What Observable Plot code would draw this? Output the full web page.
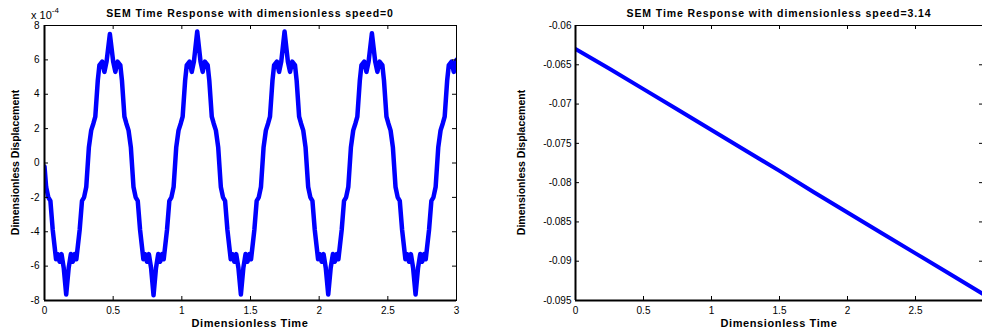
<!DOCTYPE html>
<html><head><meta charset="utf-8">
<script src="https://cdn.jsdelivr.net/npm/d3@7"></script>
<script src="https://cdn.jsdelivr.net/npm/@observablehq/plot@0.6"></script>
<style>
html,body{margin:0;padding:0;background:#fff;overflow:hidden;width:982px;height:334px;}
#wrap{position:relative;width:982px;height:334px;overflow:hidden;}
#left{position:absolute;left:0;top:0;width:470px;height:334px;}
#right{position:absolute;left:490px;top:0;width:510px;height:334px;}
svg{max-width:none !important;}
svg text{font-family:"Liberation Sans",Arial,Helvetica,sans-serif;}
</style></head><body><div id="wrap"><div id="left"></div><div id="right"></div></div>
<script>
// Left panel: dimensionless speed = 0 (displacement in units of 1e-4)
const leftTime = [
  0.000, 0.012, 0.028, 0.043, 0.060, 0.084, 0.096, 0.110, 0.124, 0.140,
  0.158, 0.176, 0.192, 0.206, 0.220, 0.232, 0.256, 0.273, 0.288, 0.304, 0.323, 0.340, 0.356, 0.370, 0.388, 0.400, 0.420, 0.436, 0.452,
  0.476, 0.500, 0.516, 0.532, 0.552, 0.564, 0.582, 0.596, 0.612, 0.629, 0.648, 0.664, 0.679, 0.696, 0.720, 0.732, 0.746, 0.760, 0.776,
  0.794, 0.812, 0.828, 0.842, 0.856, 0.868, 0.892, 0.909, 0.924, 0.940, 0.959, 0.976, 0.992, 1.006, 1.024, 1.036, 1.056, 1.072, 1.088,
  1.112, 1.136, 1.152, 1.168, 1.188, 1.200, 1.218, 1.232, 1.248, 1.265, 1.284, 1.300, 1.315, 1.332, 1.356, 1.368, 1.382, 1.396, 1.412,
  1.430, 1.448, 1.464, 1.478, 1.492, 1.504, 1.528, 1.545, 1.560, 1.576, 1.595, 1.612, 1.628, 1.642, 1.660, 1.672, 1.692, 1.708, 1.724,
  1.748, 1.772, 1.788, 1.804, 1.824, 1.836, 1.854, 1.868, 1.884, 1.901, 1.920, 1.936, 1.951, 1.968, 1.992, 2.004, 2.018, 2.032, 2.048,
  2.066, 2.084, 2.100, 2.114, 2.128, 2.140, 2.164, 2.181, 2.196, 2.212, 2.231, 2.248, 2.264, 2.278, 2.296, 2.308, 2.328, 2.344, 2.360,
  2.384, 2.408, 2.424, 2.440, 2.460, 2.472, 2.490, 2.504, 2.520, 2.537, 2.556, 2.572, 2.587, 2.604, 2.628, 2.640, 2.654, 2.668, 2.684,
  2.702, 2.720, 2.736, 2.750, 2.764, 2.776, 2.800, 2.817, 2.832, 2.848, 2.867, 2.884, 2.900, 2.914, 2.932, 2.944, 2.964, 2.980, 2.996, 3.000
];
const leftDisp = [
  -0.2, -1.4, -2.0, -2.2, -3.9, -5.6, -5.3, -5.75, -5.3, -6.1,
  -7.65, -6.1, -5.3, -5.75, -5.3, -5.6, -3.9, -2.2, -2.0, -1.4, 0.9, 1.9, 2.3, 2.7, 4.8, 5.7, 5.9, 5.3, 5.9,
  7.5, 5.9, 5.3, 5.9, 5.7, 4.8, 2.7, 2.3, 1.9, 0.9, -1.4, -2.0, -2.2, -3.9, -5.6, -5.3, -5.75, -5.3, -6.1,
  -7.7, -6.1, -5.3, -5.75, -5.3, -5.6, -3.9, -2.2, -2.0, -1.4, 0.9, 1.9, 2.3, 2.7, 4.8, 5.7, 5.9, 5.3, 5.9,
  7.65, 5.9, 5.3, 5.9, 5.7, 4.8, 2.7, 2.3, 1.9, 0.9, -1.4, -2.0, -2.2, -3.9, -5.6, -5.3, -5.75, -5.3, -6.1,
  -7.65, -6.1, -5.3, -5.75, -5.3, -5.6, -3.9, -2.2, -2.0, -1.4, 0.9, 1.9, 2.3, 2.7, 4.8, 5.7, 5.9, 5.3, 5.9,
  7.65, 5.9, 5.3, 5.9, 5.7, 4.8, 2.7, 2.3, 1.9, 0.9, -1.4, -2.0, -2.2, -3.9, -5.6, -5.3, -5.75, -5.3, -6.1,
  -7.65, -6.1, -5.3, -5.75, -5.3, -5.6, -3.9, -2.2, -2.0, -1.4, 0.9, 1.9, 2.3, 2.7, 4.8, 5.7, 5.9, 5.3, 5.9,
  7.55, 5.9, 5.3, 5.9, 5.7, 4.8, 2.7, 2.3, 1.9, 0.9, -1.4, -2.0, -2.2, -3.9, -5.6, -5.3, -5.75, -5.3, -6.1,
  -7.65, -6.1, -5.3, -5.75, -5.3, -5.6, -3.9, -2.2, -2.0, -1.4, 0.9, 1.9, 2.3, 2.7, 4.8, 5.7, 5.9, 5.3, 5.9, 6.0
];
// Right panel: dimensionless speed = 3.14
const rightTime = [0, 0.25, 0.5, 0.75, 1.0, 1.25, 1.5, 1.75, 2.0, 2.25, 2.5, 2.75, 3.0];
const rightDisp = [-0.0630, -0.0655, -0.0681, -0.0707, -0.0733, -0.0759, -0.0785, -0.0812, -0.0838, -0.0864, -0.0890, -0.0916, -0.0942];

const xTicks = [0, 0.5, 1, 1.5, 2, 2.5, 3];
const xTickLabelsRight = [0, 0.5, 1, 1.5, 2, 2.5];
const yTicksLeft = [-8, -6, -4, -2, 0, 2, 4, 6, 8];
const yTicksRight = [-0.095, -0.09, -0.085, -0.08, -0.075, -0.07, -0.065, -0.06];

const titles = ["SEM Time Response with dimensionless speed=0", "SEM Time Response with dimensionless speed=3.14"];
const xLabel = "Dimensionless Time";
const yLabel = "Dimensionless Displacement";

const H = 334, MT = 25, MB = 34;
const PH = H - MT - MB;

function panel(el, o) {
  const data = o.time.map((t, i) => ({t, v: o.disp[i]}));
  const PW = o.width - o.marginLeft - o.marginRight;
  const svg = Plot.plot({
    width: o.width, height: H,
    marginLeft: o.marginLeft, marginRight: o.marginRight, marginTop: MT, marginBottom: MB,
    style: {fontFamily: '"Liberation Sans", Arial, sans-serif', fontSize: "10px", color: "#000", background: "#fff", overflow: "visible", maxWidth: "none"},
    x: {domain: [0, 3]},
    y: {domain: o.yDomain},
    marks: [
      Plot.line(data, {x: "t", y: "v", stroke: "#0000ff", strokeWidth: o.sw, strokeLinejoin: "round", strokeLinecap: "round", clip: true}),
      Plot.frame({stroke: "#000", strokeWidth: 1}),
      Plot.ruleX([0], {stroke: "#000", strokeWidth: 2}),
      Plot.ruleY([o.yDomain[0]], {stroke: "#000", strokeWidth: 2}),
      Plot.tickX(xTicks, {x: d => d, insetTop: PH - 4, stroke: "#000"}),
      Plot.tickX(xTicks, {x: d => d, insetBottom: PH - 4, stroke: "#000"}),
      Plot.tickY(o.yTicks, {y: d => d, insetRight: PW - 4, stroke: "#000"}),
      Plot.tickY(o.yTicks, {y: d => d, insetLeft: PW - 4, stroke: "#000"}),
      Plot.axisX({ticks: o.xLabels, tickSize: 0, tickPadding: 6, tickFormat: d => String(d), label: null, fill: "#000"}),
      Plot.axisY({ticks: o.yTicks, tickSize: 0, tickPadding: o.yPad, tickFormat: d => String(d), label: null, fill: "#000"})
    ]
  });
  const s = d3.select(svg);
  const cx = o.marginLeft + PW / 2;
  s.append("text").attr("x", cx).attr("y", 17.3).attr("text-anchor", "middle")
    .attr("font-weight", "bold").attr("font-size", "10.5px").attr("letter-spacing", "0.9px").attr("fill", "#000").text(o.title);
  s.append("text").attr("x", cx).attr("y", 327).attr("text-anchor", "middle")
    .attr("font-weight", "bold").attr("font-size", "11px").attr("letter-spacing", "0.6px").attr("fill", "#000").text(xLabel);
  s.append("text").attr("transform", `translate(${o.ylabX},${MT + PH / 2}) rotate(-90)`).attr("dy", "0.35em")
    .attr("text-anchor", "middle").attr("font-weight", "bold").attr("font-size", "10.5px").attr("fill", "#000").text(yLabel);
  if (o.exponent) {
    const t = s.append("text").attr("x", 45).attr("y", 19).attr("font-size", "11px").attr("fill", "#000");
    t.append("tspan").text("x 10");
    t.append("tspan").attr("font-size", "8px").attr("dy", "-6").text("-4");
  }
  document.getElementById(el).appendChild(svg);
}

panel("left", {time: leftTime, disp: leftDisp, width: 470, marginLeft: 44, marginRight: 14,
  yDomain: [-8, 8], yTicks: yTicksLeft, xLabels: xTicks, yPad: 5, sw: 4.5, ylabX: 15,
  title: titles[0], exponent: true});
panel("right", {time: rightTime, disp: rightDisp, width: 510, marginLeft: 85, marginRight: 17,
  yDomain: [-0.095, -0.06], yTicks: yTicksRight, xLabels: xTickLabelsRight, yPad: 4, sw: 4, ylabX: 31,
  title: titles[1], exponent: false});
</script></body></html>
